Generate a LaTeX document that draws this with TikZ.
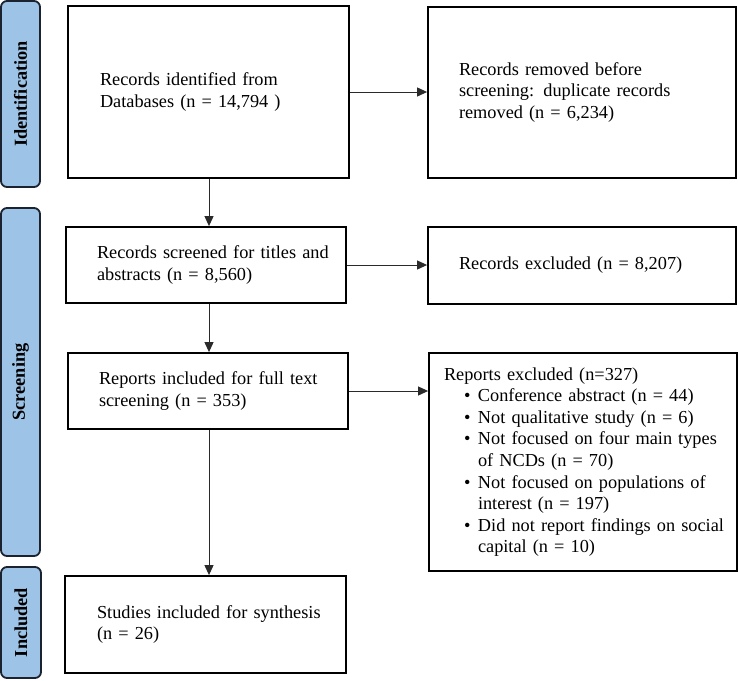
\documentclass[tikz,border=0pt]{standalone}
\usepackage{fontspec}
\setmainfont{Liberation Serif}
\usetikzlibrary{arrows.meta}
\definecolor{sidefill}{HTML}{9DC3E6}
\definecolor{sideline}{HTML}{1C2330}
\definecolor{arrowc}{HTML}{2A2A2A}
\newcommand{\bulitem}{\makebox[34pt][l]{\hspace{20pt}\textbullet}}
\newcommand{\contind}{\hspace*{34pt}}
\newcommand{\oneline}[1]{\mbox{#1}}
\begin{document}
\begin{tikzpicture}[x=1pt,y=-1pt,
  txt/.style={font=\fontsize{18.3}{21.6}\selectfont},
  box/.style={draw=black, line width=1.8pt, rectangle, inner ysep=0pt, align=left, txt},
  side/.style={draw=sideline, fill=sidefill, line width=1.8pt, rounded corners=6pt, rotate=90,
    font=\fontsize{18.3}{21.6}\selectfont\bfseries, inner sep=0pt},
  conn/.style={draw=arrowc, line width=1pt, -{Triangle[length=10pt,width=9pt]}}
]
\useasboundingbox (0,0) rectangle (738,680);

% side bars
\node[side, minimum width=186pt, minimum height=39pt] (s1) at (20.5,94) {Identification};
\node[side, minimum width=348pt, minimum height=39pt] (s2) at (20.5,382) {Screening};
\node[side, minimum width=111pt, minimum height=40pt] (s3) at (21,622.5) {Included};

% boxes
\node[box, minimum width=281pt, minimum height=172pt, inner xsep=32pt, text width=217pt] (b1) at (208.5,92)
  {\oneline{Records identified from}\\\oneline{Databases (n = 14,794 )}};
\node[box, minimum width=308pt, minimum height=171pt, inner xsep=31pt, text width=246pt] (b2) at (582,92.5)
  {\oneline{Records removed before}\\\oneline{screening: duplicate records}\\\oneline{removed (n = 6,234)}};
\node[box, minimum width=280pt, minimum height=76pt, inner xsep=31pt, text width=218pt] (b3) at (206,265)
  {\oneline{Records screened for titles and}\\\oneline{abstracts (n = 8,560)}};
\node[box, minimum width=308pt, minimum height=77pt, inner xsep=31pt, text width=246pt] (b4) at (582,265.5)
  {\oneline{Records excluded (n = 8,207)}};
\node[box, minimum width=280pt, minimum height=76pt, inner xsep=31pt, text width=218pt] (b5) at (208,391)
  {\oneline{Reports included for full text}\\\oneline{screening (n = 353)}};
\node[box, minimum width=308pt, minimum height=218pt, inner xsep=15pt, text width=278pt] (b6) at (583,462)
  {\oneline{Reports excluded (n=327)}\\
   \oneline{\bulitem Conference abstract (n = 44)}\\
   \oneline{\bulitem Not qualitative study (n = 6)}\\
   \oneline{\bulitem Not focused on four main types}\\
   \oneline{\contind of NCDs (n = 70)}\\
   \oneline{\bulitem Not focused on populations of}\\
   \oneline{\contind interest (n = 197)}\\
   \oneline{\bulitem Did not report findings on social}\\
   \oneline{\contind capital (n = 10)}};
\node[box, minimum width=281pt, minimum height=97pt, inner xsep=32pt, text width=217pt] (b7) at (205.5,624.5)
  {\oneline{Studies included for synthesis}\\\oneline{(n = 26)}};

% connectors
\coordinate (c3t) at (209,0);
\draw[conn] (b1.east) -- (b1.east -| b2.west);
\draw[conn] (b1.south -| c3t) -- (b3.north -| c3t);
\draw[conn] (b3.east) -- (b3.east -| b4.west);
\draw[conn] (b3.south -| c3t) -- (b5.north -| c3t);
\draw[conn] (b5.east) -- (b5.east -| b6.west);
\draw[conn] (b5.south -| c3t) -- (b7.north -| c3t);
\end{tikzpicture}
\end{document}
